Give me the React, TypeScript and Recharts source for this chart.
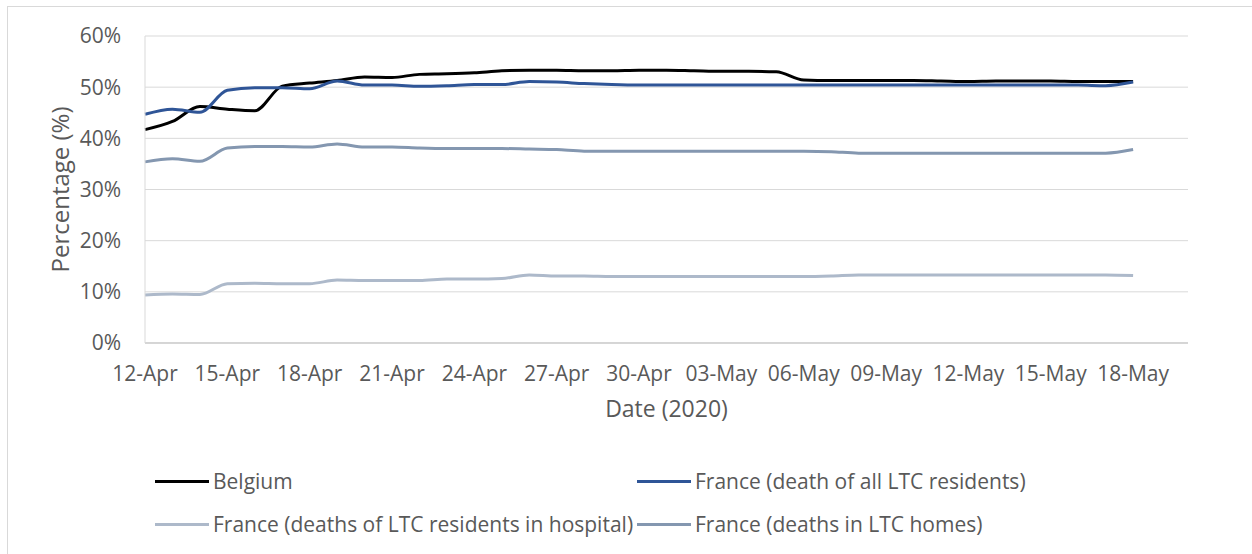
import React from "react";
import { LineChart, Line, XAxis, YAxis, CartesianGrid, Legend } from "recharts";

// 12-Apr .. 18-May 2020, one point per day
const dates = [
  "12-Apr", "13-Apr", "14-Apr", "15-Apr", "16-Apr", "17-Apr", "18-Apr", "19-Apr", "20-Apr", "21-Apr",
  "22-Apr", "23-Apr", "24-Apr", "25-Apr", "26-Apr", "27-Apr", "28-Apr", "29-Apr", "30-Apr", "01-May",
  "02-May", "03-May", "04-May", "05-May", "06-May", "07-May", "08-May", "09-May", "10-May", "11-May",
  "12-May", "13-May", "14-May", "15-May", "16-May", "17-May", "18-May",
];

const belgium = [
  0.417, 0.433, 0.462, 0.457, 0.454, 0.502, 0.508, 0.513, 0.52, 0.519,
  0.525, 0.526, 0.528, 0.532, 0.533, 0.533, 0.532, 0.532, 0.533, 0.533,
  0.532, 0.531, 0.531, 0.53, 0.514, 0.513, 0.513, 0.513, 0.513, 0.512,
  0.511, 0.512, 0.512, 0.512, 0.511, 0.511, 0.511,
];

const franceAll = [
  0.447, 0.457, 0.451, 0.494, 0.499, 0.499, 0.497, 0.512, 0.504, 0.504,
  0.502, 0.503, 0.505, 0.505, 0.511, 0.51, 0.507, 0.505, 0.504, 0.504,
  0.504, 0.504, 0.504, 0.504, 0.504, 0.504, 0.504, 0.504, 0.504, 0.504,
  0.504, 0.504, 0.504, 0.504, 0.504, 0.503, 0.51,
];

const franceHospital = [
  0.094, 0.096, 0.095, 0.116, 0.117, 0.116, 0.116, 0.123, 0.122, 0.122,
  0.122, 0.125, 0.125, 0.126, 0.133, 0.131, 0.131, 0.13, 0.13, 0.13,
  0.13, 0.13, 0.13, 0.13, 0.13, 0.131, 0.133, 0.133, 0.133, 0.133,
  0.133, 0.133, 0.133, 0.133, 0.133, 0.133, 0.132,
];

const franceHomes = [
  0.354, 0.36, 0.355, 0.381, 0.384, 0.384, 0.383, 0.389, 0.383, 0.383,
  0.381, 0.38, 0.38, 0.38, 0.379, 0.378, 0.375, 0.375, 0.375, 0.375,
  0.375, 0.375, 0.375, 0.375, 0.375, 0.374, 0.371, 0.371, 0.371, 0.371,
  0.371, 0.371, 0.371, 0.371, 0.371, 0.371, 0.378,
];

const seriesNames = [
  "Belgium",
  "France (death of all LTC residents)",
  "France (deaths of LTC residents in hospital)",
  "France (deaths in LTC homes)",
];

const xTicks = [0, 3, 6, 9, 12, 15, 18, 21, 24, 27, 30, 33, 36];
const yTicks = [0, 0.1, 0.2, 0.3, 0.4, 0.5, 0.6];

const data = dates.map((d, i) => ({
  i,
  date: d,
  belgium: belgium[i],
  franceAll: franceAll[i],
  franceHospital: franceHospital[i],
  franceHomes: franceHomes[i],
}));

const FONT = "'Open Sans', sans-serif";
const TEXT = "#595959";

function renderLegend(props: any) {
  const items = [...(props.payload || [])].sort(
    (a: any, b: any) => seriesNames.indexOf(a.value) - seriesNames.indexOf(b.value)
  );
  return (
    <div
      style={{
        display: "grid",
        gridTemplateColumns: "482px 520px",
        rowGap: 19,
        paddingLeft: 155,
        fontFamily: FONT,
        fontSize: 21,
        color: TEXT,
      }}
    >
      {items.map((it: any) => (
        <div key={it.value} style={{ display: "flex", alignItems: "center", height: 24 }}>
          <span style={{ display: "inline-block", width: 54, height: 3, background: it.color, marginRight: 4 }} />
          <span style={{ whiteSpace: "nowrap" }}>{it.value}</span>
        </div>
      ))}
    </div>
  );
}

export default function App() {
  return (
    <div style={{ position: "relative", width: 1252, height: 554, overflow: "hidden" }}>
      <style>{"body{margin:0;overflow:hidden}"}</style>
      <div
        style={{
          position: "absolute",
          left: 7,
          top: 6,
          width: 1300,
          height: 600,
          border: "1px solid #d9d9d9",
          boxSizing: "border-box",
        }}
      />
      <div style={{ position: "absolute", left: 0, top: 0 }}>
        <LineChart width={1252} height={554} data={data} margin={{ top: 36, right: 64, left: 0, bottom: 153 }}>
          <CartesianGrid horizontal vertical={false} stroke="#d9d9d9" strokeWidth={1} />
          <XAxis
            dataKey="i"
            type="number"
            domain={[0, 38]}
            ticks={xTicks}
            tickFormatter={(v: number) => dates[v]}
            height={58}
            tickLine={false}
            tickSize={0}
            tickMargin={23}
            axisLine={{ stroke: "#bfbfbf" }}
            tick={{ fill: TEXT, fontSize: 21, fontFamily: FONT }}
            interval={0}
            label={{ value: "Date (2020)", position: "bottom", offset: 0, fill: TEXT, fontSize: 23, fontFamily: FONT }}
          />
          <YAxis
            width={145}
            domain={[0, 0.6]}
            ticks={yTicks}
            tickFormatter={(v: number) => `${Math.round(v * 100)}%`}
            tickLine={false}
            tickSize={0}
            tickMargin={24}
            axisLine={{ stroke: "#d9d9d9" }}
            tick={{ fill: TEXT, fontSize: 21, fontFamily: FONT }}
            label={{
              content: (p: any) => {
                const vb = p.viewBox || {};
                const cx = (vb.x || 0) + 59;
                const cy = (vb.y || 0) + (vb.height || 0) / 2;
                return (
                  <text
                    x={cx}
                    y={cy}
                    transform={`rotate(-90 ${cx} ${cy})`}
                    textAnchor="middle"
                    dominantBaseline="central"
                    fill={TEXT}
                    fontSize={24}
                    fontFamily={FONT}
                  >
                    Percentage (%)
                  </text>
                );
              },
            }}
          />
          <Legend
            layout="horizontal"
            verticalAlign="middle"
            align="center"
            wrapperStyle={{ top: 469, left: 0, width: 1252 }}
            content={renderLegend}
          />
          <Line type="monotone" dataKey="belgium" name={seriesNames[0]} stroke="#000000" strokeWidth={3} dot={false} isAnimationActive={false} />
          <Line type="monotone" dataKey="franceAll" name={seriesNames[1]} stroke="#2f5597" strokeWidth={3} dot={false} isAnimationActive={false} />
          <Line type="monotone" dataKey="franceHospital" name={seriesNames[2]} stroke="#adb9ca" strokeWidth={3} dot={false} isAnimationActive={false} />
          <Line type="monotone" dataKey="franceHomes" name={seriesNames[3]} stroke="#8497b0" strokeWidth={3} dot={false} isAnimationActive={false} />
        </LineChart>
      </div>
    </div>
  );
}
